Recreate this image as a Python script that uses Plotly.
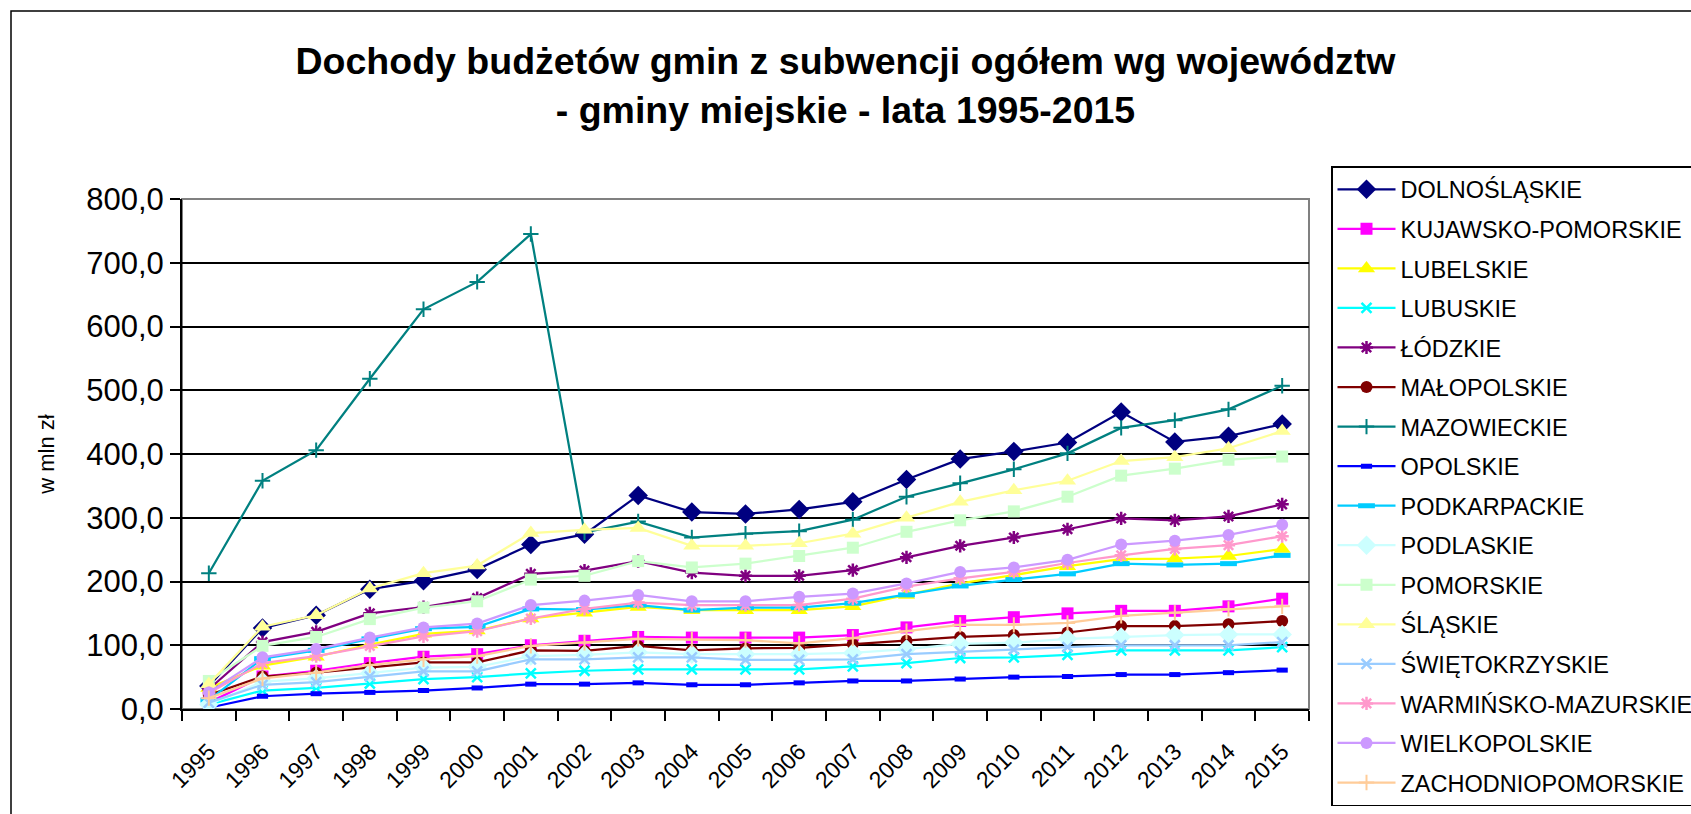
import plotly.graph_objects as go

years = [str(y) for y in range(1995, 2016)]

regions = ["DOLNOŚLĄSKIE", "KUJAWSKO-POMORSKIE", "LUBELSKIE", "LUBUSKIE", "ŁÓDZKIE",
           "MAŁOPOLSKIE", "MAZOWIECKIE", "OPOLSKIE", "PODKARPACKIE", "PODLASKIE",
           "POMORSKIE", "ŚLĄSKIE", "ŚWIĘTOKRZYSKIE", "WARMIŃSKO-MAZURSKIE",
           "WIELKOPOLSKIE", "ZACHODNIOPOMORSKIE"]

dolnoslaskie = [36, 127, 147, 188, 201, 219, 258, 274, 335, 309, 306, 313, 325, 360, 392, 404, 418, 466, 419, 428, 447]
kujawsko_pomorskie = [10, 51, 60, 72, 82, 86, 100, 107, 113, 112, 112, 112, 116, 128, 138, 144, 150, 154, 154, 161, 173]
lubelskie = [33, 68, 82, 101, 118, 123, 142, 151, 160, 155, 155, 155, 161, 179, 197, 210, 224, 235, 236, 240, 251]
lubuskie = [7, 29, 33, 40, 47, 50, 56, 60, 62, 62, 62, 62, 67, 72, 80, 81, 85, 92, 92, 92, 97]
lodzkie = [31, 105, 121, 150, 160, 174, 212, 217, 232, 214, 209, 209, 218, 238, 256, 269, 282, 299, 296, 302, 321]
malopolskie = [22, 51, 57, 65, 73, 73, 92, 91, 99, 92, 95, 96, 102, 107, 113, 116, 120, 130, 130, 133, 138]
mazowieckie = [213, 358, 406, 518, 627, 670, 745, 277, 294, 269, 275, 279, 297, 333, 354, 376, 401, 441, 453, 470, 507]
opolskie = [2, 20, 24, 26, 29, 33, 39, 39, 41, 38, 38, 41, 44, 44, 47, 50, 51, 54, 54, 57, 61]
podkarpackie = [14, 79, 92, 110, 126, 129, 157, 156, 163, 155, 159, 159, 166, 179, 193, 203, 212, 228, 226, 228, 241]
podlaskie = [7, 43, 48, 56, 65, 66, 83, 85, 89, 86, 86, 86, 88, 94, 102, 104, 110, 113, 116, 117, 117]
pomorskie = [44, 99, 113, 141, 159, 169, 203, 209, 232, 222, 228, 240, 253, 278, 296, 310, 333, 366, 377, 391, 396]
slaskie = [39, 129, 147, 189, 213, 225, 276, 281, 284, 256, 256, 260, 275, 300, 325, 343, 358, 389, 395, 409, 436]
swietokrzyskie = [10, 38, 42, 51, 59, 59, 78, 78, 81, 81, 77, 77, 78, 86, 90, 93, 97, 100, 100, 100, 105]
warminsko_mazurskie = [25, 72, 83, 99, 114, 122, 142, 157, 167, 163, 163, 163, 173, 192, 205, 215, 229, 241, 251, 257, 271]
wielkopolskie = [26, 81, 94, 112, 128, 134, 163, 170, 179, 169, 169, 176, 181, 197, 215, 222, 234, 258, 264, 273, 289]
zachodniopomorskie = [17, 48, 57, 69, 78, 83, 99, 104, 110, 109, 108, 103, 111, 122, 132, 132, 135, 146, 151, 157, 161]

series = [dolnoslaskie, kujawsko_pomorskie, lubelskie, lubuskie, lodzkie, malopolskie,
          mazowieckie, opolskie, podkarpackie, podlaskie, pomorskie, slaskie,
          swietokrzyskie, warminsko_mazurskie, wielkopolskie, zachodniopomorskie]

colors = ["#000080", "#FF00FF", "#FFFF00", "#00FFFF", "#800080", "#800000",
          "#008080", "#0000FF", "#00CCFF", "#CCFFFF", "#CCFFCC", "#FFFF99",
          "#99CCFF", "#FF99CC", "#CC99FF", "#FFCC99"]

# (symbol, size, line width of marker outline)
markers = [("diamond", 15, 0), ("square", 12, 0), ("triangle-up", 15, 0), ("x-thin-open", 10, 2.5),
           ("asterisk-open", 11, 2.5), ("circle", 12, 0), ("cross-thin-open", 11, 2),
           ("line-ew-open", 8, 5), ("line-ew-open", 12, 5), ("diamond", 15, 0),
           ("square", 12, 0), ("triangle-up", 15, 0), ("x-thin-open", 10, 2.5),
           ("asterisk-open", 11, 2.5), ("circle", 12, 0), ("cross-thin-open", 11, 2)]

FONT = "Arial, Liberation Sans, sans-serif"

fig = go.Figure()
for name, vals, col, (sym, size, lw) in zip(regions, series, colors, markers):
    mk = dict(symbol=sym, size=size, color=col)
    if lw:
        mk["line"] = dict(color=col, width=lw)
    else:
        mk["line"] = dict(width=0)
    fig.add_trace(go.Scatter(
        x=years, y=vals, name=name, mode="lines+markers",
        line=dict(color=col, width=2.25), marker=mk, legendgroup=name,
    ))

W, H = 1691, 814
L, R, T, B = 182, 382, 199, 105
pw, ph = W - L - R, H - T - B

def px(xf):
    return (xf - L) / pw

def py(yf):
    return (H - B - yf) / ph

fig.update_layout(
    width=W, height=H,
    margin=dict(l=L, r=R, t=T, b=B),
    paper_bgcolor="white", plot_bgcolor="white",
    separators=", ",
    font=dict(family=FONT, color="black"),
    title=dict(
        text="Dochody budżetów gmin z subwencji ogółem wg województw<br>- gminy miejskie - lata 1995-2015",
        x=0.5, xref="container", xanchor="center",
        y=1 - 74 / H, yref="container", yanchor="middle",
        font=dict(family=FONT, size=37.5, color="black", weight="bold"),
    ),
    legend=dict(
        xref="container", yref="container",
        x=1331 / W, xanchor="left", y=1 - 166 / H, yanchor="top",
        bordercolor="black", borderwidth=1.5, bgcolor="white",
        font=dict(family=FONT, size=23.5, color="black"),
        tracegroupgap=6, itemwidth=58, maxheight=760,
    ),
    xaxis=dict(
        type="category", tickson="boundaries", ticks="outside", ticklen=10,
        tickwidth=1.5, tickcolor="black", showline=True, linecolor="black",
        linewidth=2, showgrid=False, tickangle=-45, ticklabelstandoff=18,
        tickfont=dict(family=FONT, size=23, color="black"),
        range=[-0.5, 20.5], fixedrange=True,
    ),
    yaxis=dict(
        range=[0, 800], dtick=100, tickformat=".1f", ticks="outside", ticklen=10,
        tickwidth=1.5, tickcolor="black", showline=True, linecolor="black",
        linewidth=2, showgrid=True, gridcolor="black", gridwidth=1.5,
        zeroline=False, ticklabelstandoff=0,
        tickfont=dict(family=FONT, size=31, color="black"),
        title=dict(text="w mln zł", font=dict(family=FONT, size=22, color="black"), standoff=26),
    ),
    shapes=[
        dict(type="rect", xref="paper", yref="paper", x0=0, y0=0, x1=1, y1=1,
             line=dict(color="#808080", width=2), layer="below"),
        dict(type="rect", xref="paper", yref="paper", x0=px(11), y0=py(830), x1=px(1700), y1=py(11),
             line=dict(color="black", width=1.5), layer="below"),
    ],
)

fig.write_html("out.html", config={"displayModeBar": False},
               post_script="document.body.style.margin='0';")
